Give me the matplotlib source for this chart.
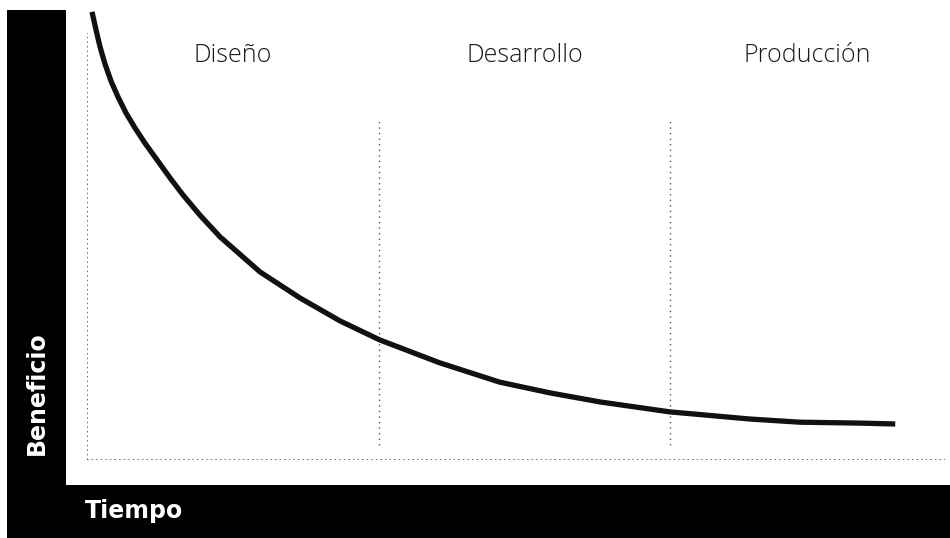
import matplotlib
matplotlib.use("Agg")
import matplotlib.pyplot as plt
from matplotlib.patches import Rectangle

# Benefit of changes along the product life cycle
tiempo = [0.58, 1.05, 1.52, 2.10, 2.80, 3.61, 4.55, 5.59, 6.76, 8.16, 9.67,
          11.19, 13.17, 15.50, 20.16, 24.83, 29.5, 34.1, 41.1, 48.1, 54.0,
          59.8, 67.9, 77.3, 83.1, 90.1, 94.2]
beneficio = [99.6, 95.6, 91.8, 88.0, 84.2, 80.7, 77.1, 73.8, 70.4, 66.7, 62.7,
             58.9, 54.4, 49.6, 41.8, 36.0, 30.9, 26.7, 21.6, 17.3, 14.9,
             12.9, 10.7, 9.1, 8.4, 8.2, 8.0]

fases = ["Diseño", "Desarrollo", "Producción"]
limites_fase = [0, 34, 68, 100]

eje_x = "Tiempo"
eje_y = "Beneficio"

W, H = 950, 538
fig = plt.figure(figsize=(W / 100, H / 100), dpi=100)
fig.patch.set_facecolor("white")

# Black L-shaped frame holding the axis titles
fig.patches.append(Rectangle((7 / W, 0), 59 / W, (H - 10) / H,
                             transform=fig.transFigure, facecolor="black",
                             edgecolor="none", zorder=0))
fig.patches.append(Rectangle((7 / W, 0), (W - 7) / W, 53 / H,
                             transform=fig.transFigure, facecolor="black",
                             edgecolor="none", zorder=0))

fig.text(37 / W, (H - 393) / H, eje_y, rotation=90, color="white",
         fontsize=17, fontweight="bold", ha="center", va="center",
         family="DejaVu Sans")
fig.text(85 / W, (H - 511) / H, eje_x, color="white", fontsize=17,
         fontweight="bold", ha="left", va="center", family="DejaVu Sans")

ax = fig.add_axes([87 / W, (H - 460) / H, 858 / W, 450 / H])
ax.set_xlim(0, 100)
ax.set_ylim(0, 100)
ax.set_facecolor("none")
ax.axis("off")

# Axis lines
axis_dots = dict(color="#444444", lw=1.1, linestyle=(0, (1, 2)))
ax.plot([0, 0], [0, 94.9], **axis_dots)
ax.plot([0, 100], [0, 0], **axis_dots)
# Phase separators
sep_dots = dict(color="#555555", lw=1.0, linestyle=(0, (1, 3)))
for xb in limites_fase[1:-1]:
    ax.plot([xb, xb], [3.3, 75.5], **sep_dots)

# Phase names centred in each span
for i, nombre in enumerate(fases):
    xc = (limites_fase[i] + limites_fase[i + 1]) / 2
    ax.text(xc, 89.8, nombre, ha="center", va="center", fontsize=18,
            color="#1a1a1a", family="Open Sans", fontweight=300)

ax.plot(tiempo, beneficio, color="#111111", lw=3.8,
        solid_joinstyle="round", solid_capstyle="butt")

fig.savefig("out.png", dpi=100, facecolor="white")
